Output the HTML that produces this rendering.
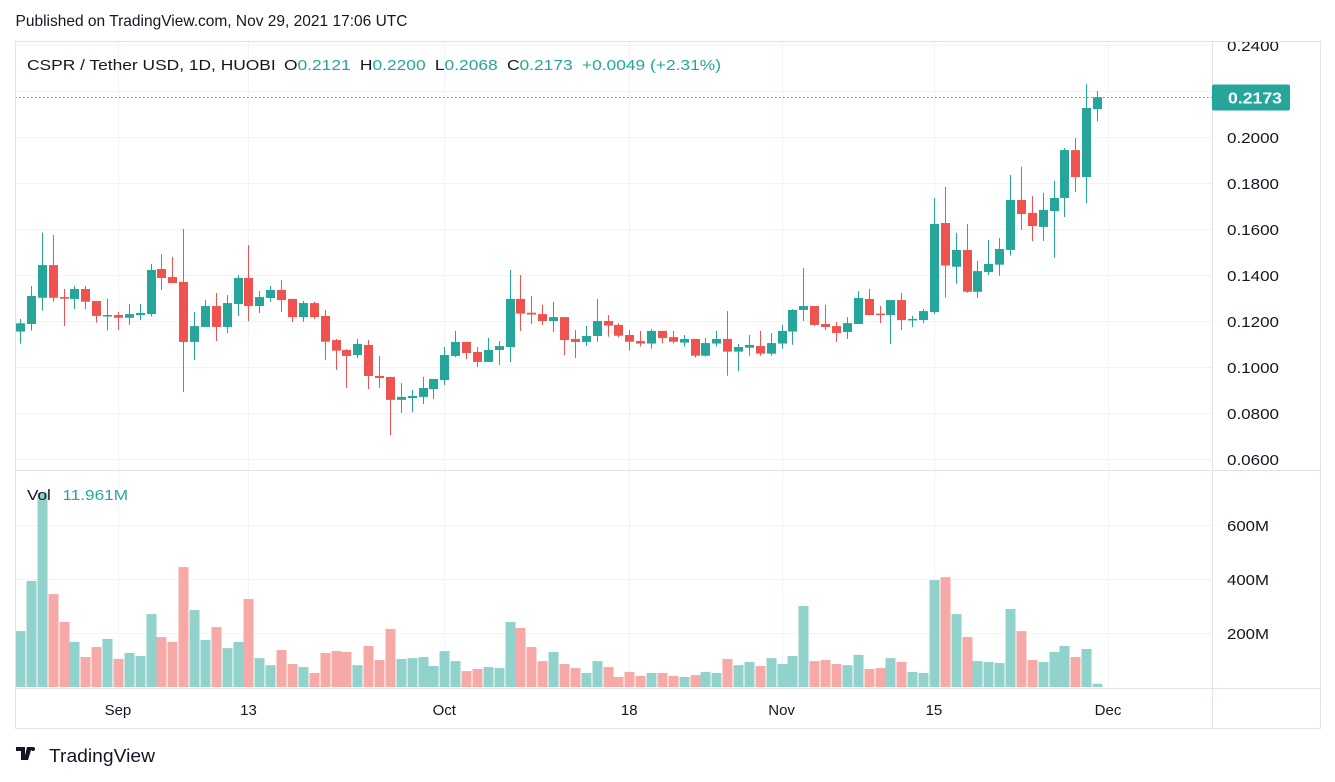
<!DOCTYPE html>
<html><head><meta charset="utf-8">
<style>
body{margin:0;background:#fff;width:1335px;height:782px;overflow:hidden;font-family:"Liberation Sans",sans-serif;}
svg{position:absolute;left:0;top:0}
</style></head>
<body>
<svg id="chart" width="1335" height="782" font-family="Liberation Sans, sans-serif">
<text x="16" y="26" font-size="16" fill="#131722" transform="scale(0.97,1)">Published on TradingView.com, Nov 29, 2021 17:06 UTC</text>
<g id="grid"></g>
<g id="vol"></g>
<g id="candles"></g>
<line x1="1212.5" y1="41" x2="1212.5" y2="728" stroke="#e0e3eb"/>
<line x1="15" y1="470.5" x2="1320" y2="470.5" stroke="#e0e3eb"/>
<line x1="15" y1="688.5" x2="1320" y2="688.5" stroke="#e0e3eb"/>
<g id="axes"></g>
<rect x="0" y="0" width="1335" height="41" fill="#fff"/>
<text x="16" y="26" font-size="16" fill="#131722" transform="scale(0.97,1)">Published on TradingView.com, Nov 29, 2021 17:06 UTC</text>
<rect x="15.5" y="41.5" width="1305" height="687" fill="none" stroke="#e0e3eb"/>
<text x="27" y="70" font-size="15" fill="#131722" textLength="694" lengthAdjust="spacingAndGlyphs">CSPR / Tether USD, 1D, HUOBI <tspan dx="3">O</tspan><tspan fill="#26a69a">0.2121</tspan><tspan dx="8">H</tspan><tspan fill="#26a69a">0.2200</tspan><tspan dx="8">L</tspan><tspan fill="#26a69a">0.2068</tspan><tspan dx="8">C</tspan><tspan fill="#26a69a">0.2173</tspan><tspan dx="8" fill="#26a69a">+0.0049 (+2.31%)</tspan></text>
<text x="27" y="500" font-size="15" fill="#131722" textLength="101" lengthAdjust="spacingAndGlyphs">Vol <tspan dx="6" fill="#26a69a">11.961M</tspan></text>
<g>
<path d="M16 747h9v13h-4v-9h-5z M27 747h5l-4 13h-4z" fill="#131722"/>
<circle cx="33" cy="749" r="2" fill="#131722"/>
<text x="49" y="762" font-size="18" fill="#131722" textLength="106" lengthAdjust="spacingAndGlyphs">TradingView</text>
</g>
</svg>
<script>
const opens=[0.1154,0.1187,0.1301,0.1443,0.1304,0.1296,0.1339,0.1287,0.1223,0.1226,0.1214,0.1226,0.1230,0.1426,0.1391,0.1370,0.1109,0.1174,0.1265,0.1174,0.1274,0.1387,0.1265,0.1300,0.1335,0.1296,0.1217,0.1278,0.1222,0.1117,0.1074,0.1052,0.1096,0.0961,0.0957,0.0857,0.0865,0.0870,0.0904,0.0943,0.1048,0.1109,0.1065,0.1022,0.1074,0.1087,0.1296,0.1236,0.1230,0.1200,0.1217,0.1122,0.1109,0.1135,0.1200,0.1183,0.1139,0.1113,0.1102,0.1157,0.1130,0.1106,0.1122,0.1049,0.1102,0.1122,0.1067,0.1084,0.1091,0.1058,0.1102,0.1154,0.1248,0.1265,0.1187,0.1178,0.1152,0.1187,0.1296,0.1232,0.1226,0.1291,0.1204,0.1204,0.1239,0.1626,0.1436,0.1509,0.1327,0.1413,0.1445,0.1509,0.1726,0.1670,0.1609,0.1678,0.1735,0.1943,0.1826,0.2121];
const highs=[0.1209,0.1352,0.1584,0.1574,0.1339,0.1353,0.1352,0.1287,0.1296,0.1239,0.1274,0.1274,0.1448,0.1491,0.1478,0.1600,0.1239,0.1291,0.1322,0.1313,0.1400,0.1530,0.1330,0.1352,0.1378,0.1296,0.1287,0.1284,0.1248,0.1122,0.1078,0.1122,0.1117,0.1048,0.0957,0.0930,0.0900,0.0957,0.0948,0.1087,0.1157,0.1109,0.1087,0.1126,0.1113,0.1422,0.1400,0.1309,0.1270,0.1283,0.1217,0.1161,0.1178,0.1296,0.1226,0.1191,0.1161,0.1157,0.1165,0.1157,0.1157,0.1139,0.1122,0.1126,0.1157,0.1243,0.1100,0.1139,0.1157,0.1148,0.1183,0.1252,0.1430,0.1265,0.1270,0.1196,0.1217,0.1330,0.1339,0.1265,0.1291,0.1322,0.1222,0.1252,0.1735,0.1783,0.1583,0.1622,0.1461,0.1552,0.1561,0.1835,0.1870,0.1743,0.1757,0.1809,0.1952,0.1996,0.2230,0.2200];
const lows=[0.1101,0.1158,0.1245,0.1284,0.1178,0.1252,0.1252,0.1193,0.1158,0.1161,0.1183,0.1204,0.1219,0.1335,0.1365,0.0891,0.1030,0.1174,0.1113,0.1148,0.1222,0.1200,0.1235,0.1283,0.1239,0.1196,0.1196,0.1209,0.1030,0.0987,0.0909,0.1039,0.0904,0.0909,0.0704,0.0800,0.0804,0.0839,0.0861,0.0922,0.1043,0.1035,0.1000,0.1022,0.1009,0.1022,0.1157,0.1187,0.1183,0.1152,0.1052,0.1039,0.1091,0.1109,0.1132,0.1128,0.1071,0.1089,0.1080,0.1102,0.1102,0.1089,0.1041,0.1045,0.1089,0.0962,0.0982,0.1049,0.1049,0.1049,0.1080,0.1097,0.1200,0.1178,0.1161,0.1109,0.1122,0.1187,0.1226,0.1191,0.1100,0.1161,0.1174,0.1191,0.1230,0.1301,0.1362,0.1323,0.1301,0.1400,0.1397,0.1484,0.1596,0.1548,0.1548,0.1475,0.1652,0.1761,0.1713,0.2068];
const closes=[0.1190,0.1309,0.1443,0.1301,0.1297,0.1339,0.1284,0.1222,0.1226,0.1214,0.1230,0.1235,0.1422,0.1387,0.1365,0.1109,0.1178,0.1265,0.1174,0.1278,0.1387,0.1265,0.1304,0.1335,0.1291,0.1217,0.1278,0.1217,0.1110,0.1071,0.1048,0.1100,0.0961,0.0952,0.0857,0.0870,0.0874,0.0909,0.0948,0.1052,0.1109,0.1061,0.1022,0.1074,0.1091,0.1296,0.1232,0.1228,0.1200,0.1217,0.1117,0.1109,0.1135,0.1200,0.1180,0.1136,0.1110,0.1102,0.1157,0.1126,0.1110,0.1122,0.1049,0.1104,0.1122,0.1067,0.1087,0.1096,0.1058,0.1104,0.1157,0.1248,0.1265,0.1183,0.1174,0.1148,0.1191,0.1300,0.1226,0.1228,0.1291,0.1204,0.1209,0.1243,0.1622,0.1441,0.1509,0.1327,0.1417,0.1448,0.1513,0.1726,0.1665,0.1613,0.1683,0.1735,0.1943,0.1826,0.2126,0.2173];
const volumes=[207,393,720,344,241,167,111,148,178,104,126,115,270,185,167,444,285,174,222,144,167,326,107,81,137,85,74,52,126,133,130,81,152,100,215,104,107,111,78,133,96,59,67,74,70,241,219,148,96,130,85,70,52,96,74,37,56,41,52,52,41,37,44,56,52,104,81,93,78,107,85,115,300,96,100,85,81,119,67,70,107,93,56,52,396,407,270,185,96,93,89,289,207,100,93,130,152,111,141,12];
const priceTicks=[0.06,0.08,0.10,0.12,0.14,0.16,0.18,0.20,0.24];
const volTicks=[200,400,600];
const dateLabels=["Sep","13","Oct","18","Nov","15","Dec"];
const dateIdx=[9,21,39,56,70,84,100];

const NS="http://www.w3.org/2000/svg";
const X0=20, DX=10.88;
const xOf=i=>X0+i*DX;
const yP=p=>45+(0.24-p)*2300;
const yV=v=>687-v*0.27;
function mk(tag,attrs,parent){const e=document.createElementNS(NS,tag);for(const k in attrs)e.setAttribute(k,attrs[k]);parent.appendChild(e);return e;}
const grid=document.getElementById('grid'),cg=document.getElementById('candles'),vg=document.getElementById('vol'),ax=document.getElementById('axes');
const GC="#f0f3fa";
priceTicks.concat([0.22]).forEach(p=>{const y=Math.round(yP(p))+0.5;if(y<42)return;const l=mk('line',{x1:15,x2:1212,y1:y,y2:y,stroke:GC},grid);

});
volTicks.forEach(v=>{const y=Math.round(yV(v))+0.5;const l=mk('line',{x1:15,x2:1212,y1:y,y2:y,stroke:GC},grid);

});
dateIdx.forEach(i=>{const x=Math.round(xOf(i))+0.5;const l=mk('line',{x1:x,x2:x,y1:42,y2:688,stroke:GC},grid);

});
const UP="#26a69a",DN="#ef5350";
for(let i=0;i<opens.length;i++){
 const up=closes[i]>=opens[i];const c=up?UP:DN;const x=xOf(i);
 const w=mk('line',{x1:Math.round(x)+0.5,x2:Math.round(x)+0.5,y1:yP(highs[i]),y2:yP(lows[i]),stroke:c},cg);
 
 
 const t=Math.min(yP(opens[i]),yP(closes[i]));const h=Math.max(1.5,Math.abs(yP(opens[i])-yP(closes[i])));
 const b=mk('rect',{x:Math.round(x)-4,y:t,width:9,height:h,fill:c},cg);
 
 
 const vb=mk('rect',{x:Math.round(x)-4.5,y:yV(volumes[i]),width:10,height:687-yV(volumes[i]),fill:up?"#92d2cc":"#f7a9a7"},vg);
 
 
}
priceTicks.forEach(p=>{const t=mk('text',{x:1227,y:yP(p)+6,'font-size':15,fill:'#131722',textLength:52,lengthAdjust:'spacingAndGlyphs'},ax);t.textContent=p.toFixed(4);

});
volTicks.forEach(v=>{const t=mk('text',{x:1227,y:yV(v)+6,'font-size':15,fill:'#131722',textLength:42,lengthAdjust:'spacingAndGlyphs'},ax);t.textContent=v+"M";

});
dateLabels.forEach((s,k)=>{const t=mk('text',{x:xOf(dateIdx[k]),y:715,'font-size':15,fill:'#131722','text-anchor':'middle'},ax);t.textContent=s;

});
const last=closes[closes.length-1];const ly=Math.round(yP(last))+0.5;
const dl=mk('line',{x1:15,x2:1212,y1:ly,y2:ly,stroke:UP,'stroke-dasharray':'1.5 2.5'},ax);


const tag=mk('rect',{x:1212,y:ly-13,width:78,height:26,rx:2,fill:UP},ax);


const tt=mk('text',{x:1228,y:ly+6,'font-size':16,'font-weight':'bold',fill:'#fff',textLength:54,lengthAdjust:'spacingAndGlyphs'},ax);tt.textContent=last.toFixed(4);


</script>
</body></html>
